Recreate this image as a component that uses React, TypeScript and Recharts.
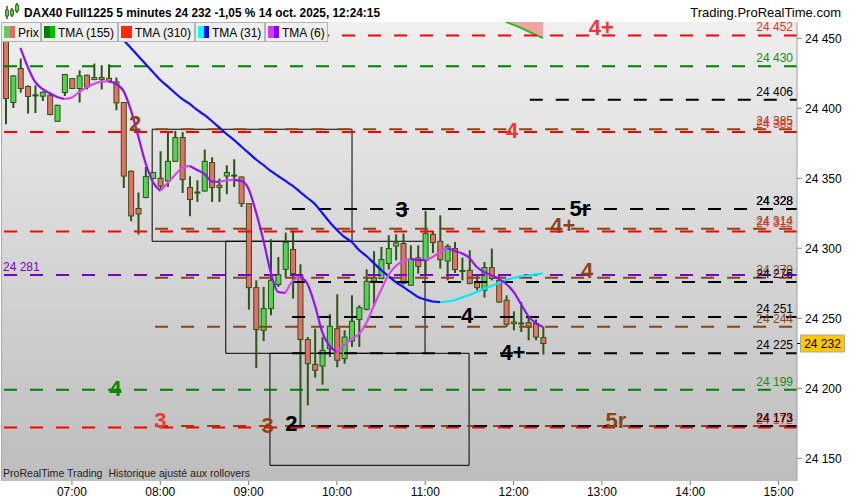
import React from 'react';
import { ComposedChart, Bar, Line, Area, XAxis, YAxis, ReferenceLine, ReferenceDot, ReferenceArea } from 'recharts';

// ---- 5-minute candles, slot 0 = 06:15 ----
const opens = [24448.6, 24404.1, 24428.4, 24415.5, 24408.8, 24408.6, 24409.3, 24390.7, 24411.2, 24421.2, 24414.1, 24423.6, 24420.5, 24421.9, 24421.4, 24418.8, 24404.1, 24355, 24328.4, 24336.2, 24349.8, 24350, 24348.1, 24362.1, 24379.1, 24343.4, 24339.5, 24340.9, 24361.2, 24345, 24351.6, 24351.6, 24350.9, 24331.9, 24271.9, 24241.4, 24256.9, 24274.1, 24285, 24299.1, 24280.2, 24234.8, 24217.1, 24215.9, 24228.4, 24242.6, 24221.2, 24233.8, 24249.1, 24256.4, 24276.6, 24278.4, 24289.1, 24301.6, 24303.4, 24273.6, 24293.1, 24291.4, 24310, 24305, 24290.9, 24299.8, 24283.8, 24284.3, 24275.9, 24270, 24286.2, 24277.1, 24262.9, 24247.4, 24245.9, 24246.9, 24246.2, 24236.2];
const highs = [24456, 24423.6, 24435.5, 24416.4, 24416.4, 24412.1, 24411.2, 24402.5, 24424.5, 24421.6, 24427.1, 24424, 24431.9, 24430.7, 24431.4, 24421.9, 24404.5, 24355.5, 24339.8, 24358.1, 24354.5, 24369.3, 24383.8, 24383.8, 24383, 24351.4, 24348.6, 24370.5, 24365, 24349.8, 24359.3, 24363.6, 24351.3, 24332.3, 24277.1, 24272.4, 24306.4, 24293.8, 24311.2, 24312.9, 24288.6, 24236.6, 24242.6, 24236.6, 24252.9, 24267.1, 24241.4, 24266.4, 24259.3, 24285, 24297.9, 24300.9, 24309.3, 24310, 24310.5, 24302.1, 24302.1, 24326.6, 24312.4, 24323.6, 24302.9, 24304.5, 24293.4, 24298.6, 24280.7, 24290.2, 24299.8, 24280.7, 24266.4, 24255, 24261.6, 24250.9, 24249.1, 24243.8];
const lows = [24388.6, 24400.2, 24411.2, 24396.2, 24396.6, 24405.2, 24395, 24390.3, 24408.8, 24413.8, 24404.1, 24413.4, 24420, 24413.4, 24418.6, 24398.6, 24343.1, 24319.3, 24309.8, 24335.8, 24349.4, 24341.4, 24343.8, 24361.7, 24339.5, 24322.9, 24333.1, 24340.5, 24333.1, 24333.1, 24338.6, 24343.8, 24329.5, 24256.2, 24214.5, 24233.8, 24252.1, 24272.4, 24279.1, 24264.1, 24173, 24187.9, 24207.6, 24202.6, 24222.4, 24215, 24217.6, 24229.5, 24229.5, 24255.7, 24258.6, 24278, 24284.8, 24291.4, 24274.1, 24273.2, 24281.9, 24280.7, 24296.6, 24285.5, 24277.1, 24282.4, 24277.1, 24274.4, 24270, 24264.8, 24277.1, 24261.2, 24243.8, 24241.4, 24240.2, 24234.3, 24234.3, 24224.1];
const closes = [24407, 24423.1, 24414.1, 24408.4, 24409.2, 24411.4, 24395.5, 24402.1, 24424.1, 24414.1, 24423.1, 24415.2, 24421.9, 24420.5, 24419.3, 24403.8, 24351.6, 24323.1, 24324.5, 24351.2, 24354.1, 24344.5, 24362.1, 24379.1, 24349.1, 24334.8, 24339.8, 24362.1, 24343.4, 24343.4, 24354.1, 24351.9, 24331.9, 24271.9, 24241.9, 24256.9, 24277.1, 24281.2, 24304.1, 24281.9, 24234.8, 24217.6, 24212.9, 24227.1, 24244.3, 24220, 24236.6, 24247.9, 24257.6, 24276.4, 24279.1, 24291.9, 24299.8, 24303.8, 24275, 24292.6, 24287.1, 24310.5, 24304.1, 24291.9, 24301.4, 24284.8, 24283.6, 24274.8, 24271.9, 24286.2, 24278.4, 24261.6, 24245.7, 24246.2, 24246.3, 24243.8, 24236.6, 24232];

// ---- moving averages ----
const tma6: (number | null)[] = [null, null, 24443.1, 24429.5, 24418.8, 24413.8, 24410.7, 24408.1, 24406.6, 24407.7, 24411.6, 24414.9, 24417.4, 24419, 24419.1, 24417.4, 24412.4, 24398.8, 24380.2, 24360.9, 24347.4, 24340.9, 24346.6, 24352.4, 24357.4, 24358.8, 24355.9, 24353.1, 24347.7, 24347.4, 24348.4, 24348.8, 24348.1, 24342.4, 24325.9, 24305.9, 24283.1, 24268.8, 24268.1, 24276.6, 24279.5, 24274.5, 24259.5, 24240.2, 24230.2, 24225.9, 24230.9, 24235.2, 24238.8, 24246.6, 24258.8, 24270.2, 24280.9, 24287.4, 24290.9, 24292.4, 24291.6, 24291.6, 24293.8, 24297.4, 24300, 24298.1, 24296.3, 24293.1, 24286.6, 24283.1, 24280.6, 24278.1, 24274.5, 24268.8, 24260.2, 24251.6, 24246.6, 24243.8];
const tma31: (number | null)[] = [null, null, null, null, null, null, null, null, null, null, null, null, null, null, 24460.2, 24454.5, 24448.8, 24443.1, 24437.4, 24431.6, 24425.9, 24420.2, 24415.6, 24410.9, 24406.6, 24403.1, 24398.8, 24395.2, 24390.9, 24386.3, 24381.6, 24377.4, 24372.7, 24368.1, 24363.4, 24359.5, 24355.2, 24351.6, 24348.1, 24344.5, 24340.2, 24335.9, 24331.6, 24325.2, 24318.8, 24313.1, 24308.1, 24304.5, 24298.8, 24294.5, 24289.5, 24284.5, 24280.2, 24275.9, 24272.4, 24268.8, 24265.2, 24263.4, 24262, 24261.6, 24262, 24263.1, 24264.9, 24266.6, 24268.8, 24270.9, 24273.1, 24275.2, 24277.4, 24278.8, 24279.9, 24280.7, 24281.4, 24282];
const tma155: (number | null)[] = [null, null, null, null, null, null, null, null, null, null, null, null, null, null, null, null, null, null, null, null, null, null, null, null, null, null, null, null, null, null, null, null, null, null, null, null, null, null, null, null, null, null, null, null, null, null, null, null, null, null, null, null, null, null, null, null, null, null, null, null, null, null, null, null, null, null, 24468, 24465.8, 24461.6, 24459.5, 24457.4, 24454.9, 24452.4, 24450.2];
const cyanFrom = 59;
const cloudTop = 24480;

// ---- axes ----
const hourTicks = [9, 21, 33, 45, 57, 69, 81, 93, 105];
const hourLabels = ['07:00', '08:00', '09:00', '10:00', '11:00', '12:00', '13:00', '14:00', '15:00'];
const yTicks = [24150, 24200, 24250, 24300, 24350, 24400, 24450];
const xDomain: [number, number] = [-0.5, 107.5];
const yDomain: [number, number] = [24133.8, 24461.6];
const lastPrice = 24232;

// ---- horizontal levels ----
const levelValues = [24452, 24430, 24406, 24385, 24383, 24328, 24328, 24314, 24312, 24281, 24279, 24276, 24251, 24244, 24225, 24199, 24173, 24172, 24173];
const levelKinds = ['red', 'green', 'black', 'brown', 'red', 'black', 'black', 'brown', 'red', 'purple', 'brown', 'black', 'black', 'brown', 'black', 'green', 'brown', 'red', 'black'];
const levelStarts = [-0.5, -0.5, 71.2, 20.3, -0.5, 38.9, 38.9, 20.3, -0.5, -0.5, 20.3, 38.9, 38.9, 20.3, 38.9, -0.5, 20.3, -0.5, 38.9];
const levelLabels = ['24 452', '24 430', '24 406', '24 385', '24 383', '24 328', '24 328', '24 314', '24 312', '', '24 279', '24 276', '24 251', '24 244', '24 225', '24 199', '24 173', '24 172', '24 173'];
const leftLabelValue = 24281;
const leftLabelText = '24 281';

// ---- zone boxes ----
const boxX1 = [19.9, 29.9, 35.9];
const boxX2 = [47.05, 56.97, 62.95];
const boxTop = [24385, 24305, 24225];
const boxBottom = [24305, 24225, 24145];

// ---- annotations ----
const annoTexts = ['4+', '2', '4', '3', '5r', '4+', '4', '4', '4+', '4', '3', '3', '2', '5r'];
const annoSlots = [80.9, 17.6, 68.8, 53.8, 78.0, 75.7, 79.0, 62.7, 68.9, 14.9, 21.0, 35.6, 38.8, 82.9];
const annoValues = [24458, 24389.5, 24384.5, 24328.1, 24328.8, 24316.6, 24284.5, 24252.4, 24225.9, 24200.2, 24177.4, 24173.8, 24175.2, 24177.4];
const annoKinds = ['red', 'brown', 'red', 'black', 'black', 'brown', 'brown', 'black', 'black', 'green', 'red', 'brown', 'black', 'brown'];

// ---- legend ----
const legendNames = ['Prix', 'TMA (155)', 'TMA (310)', 'TMA (31)', 'TMA (6)'];
const legendSwatches = [['#5ccf5c', '#e46b64'], ['#008000', '#00c000'], ['#ff2a00', '#ff2a00'], ['#00ffff', '#0010ff'], ['#d23cf0', '#8a00ff']];

const title = 'DAX40 Full1225 5 minutes 24 232 -1,05 % 14 oct. 2025, 12:24:15';
const siteName = 'Trading.ProRealTime.com';
const footNote = 'ProRealTime Trading\u00a0\u00a0Historique ajusté aux rollovers';

// ---- styles ----
const FONT = '"Liberation Sans", Arial, sans-serif';
const lineColor: Record<string, string> = { red: '#ff0000', green: '#008000', black: '#000000', brown: '#8b4513', purple: '#7a00c8' };
const labelColor: Record<string, string> = { red: '#ff2a2a', green: '#1a8a1a', black: '#000000', brown: '#8b4a18', purple: '#7a00c8' };
const annoColor: Record<string, string> = { red: '#ee3838', green: '#008a00', black: '#000000', brown: '#8b4513' };
const PURPLE = '#9312f5';
const MAGENTA = '#dc46ee';
const BLUE = '#1010ff';
const CYAN = '#00eaff';
const WICK = '#2d5416';
const UPFILL = '#52d452';
const DOWNFILL = '#e66e66';

const fmt = (v: number) => String(v).replace(/^(\d{2})(\d{3})$/, '$1 $2');

// build rows
type Run = { key: string; up: boolean };
const runs: Run[] = [];
const runVals: Record<string, (number | null)[]> = {};
{
  let cur: Run | null = null;
  for (let i = 0; i < tma6.length - 1; i++) {
    const a = tma6[i];
    const b = tma6[i + 1];
    if (a == null || b == null) { cur = null; continue; }
    const up = b > a;
    if (!cur || cur.up !== up) {
      cur = { key: 'm' + runs.length, up };
      runs.push(cur);
      runVals[cur.key] = new Array(tma6.length).fill(null);
    }
    runVals[cur.key][i] = a;
    runVals[cur.key][i + 1] = b;
  }
}

const rows = opens.map((o, i) => {
  const r: any = {
    i,
    o,
    h: highs[i],
    l: lows[i],
    c: closes[i],
    range: [lows[i], highs[i]],
    blue: i <= cyanFrom ? tma31[i] : null,
    cyan: i >= cyanFrom ? tma31[i] : null,
    g155: tma155[i],
    cloud: tma155[i] != null ? [tma155[i], cloudTop] : null,
  };
  runs.forEach((run) => { r[run.key] = runVals[run.key][i]; });
  return r;
});

const Candle = (props: any) => {
  const { x, y, width, height, payload } = props;
  if (!payload || height == null) return null;
  const { o, h, l, c } = payload;
  const k = height / (h - l);
  const cx = x + width / 2;
  const yO = y + (h - o) * k;
  const yC = y + (h - c) * k;
  const top = Math.min(yO, yC);
  const bh = Math.abs(yO - yC);
  const up = c >= o;
  return (
    <g>
      <line x1={cx} x2={cx} y1={y} y2={y + height} stroke={WICK} strokeWidth={2} />
      {bh < 1.5 ? (
        <line x1={cx - 3} x2={cx + 3} y1={top} y2={top} stroke={WICK} strokeWidth={2} />
      ) : (
        <rect x={cx - 2.5} y={top} width={5} height={bh} fill={up ? UPFILL : DOWNFILL} stroke={WICK} strokeWidth={1} />
      )}
    </g>
  );
};

const textShape = (txt: string, color: string, size: number, weight: string, anchor: string, dx: number, dy: number) =>
  (p: any) => (
    <text x={p.cx + dx} y={p.cy + dy} fill={color} fontSize={size} fontWeight={weight} fontFamily={FONT} textAnchor={anchor}>
      {txt}
    </text>
  );

const priceTag = (p: any) => (
  <g>
    <line x1={p.cx} x2={p.cx + 6} y1={p.cy} y2={p.cy} stroke="#000" strokeWidth={1} />
    <rect x={p.cx + 3.5} y={p.cy - 8.5} width={44} height={17} fill="#ffc800" stroke="#a8a8a8" strokeWidth={1} />
    <text x={p.cx + 25.5} y={p.cy + 4.5} fontSize={12} fontFamily={FONT} textAnchor="middle" fill="#000">{fmt(lastPrice)}</text>
  </g>
);

export default function App() {
  const TopDot: any = ReferenceDot;
  return (
    <div style={{ position: 'absolute', left: 0, top: 0, width: 850, height: 500, background: '#ffffff', overflow: 'hidden', fontFamily: FONT }}>
      {/* plot background */}
      <div style={{ position: 'absolute', left: 2, top: 22, width: 795, height: 459, background: 'linear-gradient(#efefef, #bdbdbd)' }} />
      <div style={{ position: 'absolute', left: 1, top: 22, width: 1, height: 459, background: '#a8a8a8' }} />
      <div style={{ position: 'absolute', left: 0, top: 0 }}>
        <ComposedChart width={850} height={500} data={rows} margin={{ top: 22, right: 0, bottom: 0, left: 2 }}>
          <XAxis
            type="number"
            dataKey="i"
            domain={xDomain}
            allowDataOverflow
            ticks={hourTicks}
            interval={0}
            tickFormatter={(v: number) => hourLabels[hourTicks.indexOf(v)] || ''}
            axisLine={false}
            tickLine={{ stroke: '#777' }}
            tickSize={4}
            tickMargin={2}
            height={19}
            tick={{ fontSize: 12, fill: '#000', fontFamily: FONT }}
          />
          <YAxis
            orientation="right"
            type="number"
            domain={yDomain}
            allowDataOverflow
            ticks={yTicks}
            interval={0}
            width={53}
            tickFormatter={fmt}
            tickSize={5}
            tickMargin={3}
            axisLine={{ stroke: '#a0a0a0' }}
            tickLine={{ stroke: '#888' }}
            tick={{ fontSize: 12, fill: '#000', fontFamily: FONT }}
          />
          {boxX1.map((x1, k) => (
            <ReferenceArea key={'box' + k} x1={x1} x2={boxX2[k]} y1={boxBottom[k]} y2={boxTop[k]} fill="none" fillOpacity={0} stroke="#000" strokeWidth={1} ifOverflow="visible" />
          ))}
          <Area dataKey="cloud" stroke="none" fill="#f4a3a3" fillOpacity={1} isAnimationActive={false} />
          <Line dataKey="g155" stroke="#22bb22" strokeWidth={2} dot={false} isAnimationActive={false} />
          {levelValues.map((v, k) =>
            levelStarts[k] <= -0.5 ? (
              <ReferenceLine key={'lv' + k} y={v} stroke={lineColor[levelKinds[k]]} strokeWidth={2} strokeDasharray="13 13" />
            ) : (
              <ReferenceLine key={'lv' + k} segment={[{ x: levelStarts[k], y: v }, { x: 107.5, y: v }]} stroke={lineColor[levelKinds[k]]} strokeWidth={2} strokeDasharray="13 13" />
            )
          )}
          <Bar dataKey="range" barSize={6} shape={Candle} isAnimationActive={false} />
          <Line dataKey="blue" type="monotone" stroke={BLUE} strokeWidth={2.2} dot={false} isAnimationActive={false} />
          <Line dataKey="cyan" type="monotone" stroke={CYAN} strokeWidth={2.2} dot={false} isAnimationActive={false} />
          {runs.map((run) => (
            <Line key={run.key} dataKey={run.key} type="monotone" stroke={run.up ? MAGENTA : PURPLE} strokeWidth={2.2} dot={false} isAnimationActive={false} />
          ))}
          {levelValues.map((v, k) =>
            levelLabels[k] ? (
              <TopDot key={'ll' + k} zIndex={1200} x={107.5} y={v} r={0} shape={textShape(levelLabels[k], labelColor[levelKinds[k]], 12, 'normal', 'end', -4, -4)} />
            ) : null
          )}
          <TopDot zIndex={1200} x={-0.5} y={leftLabelValue} r={0} shape={textShape(leftLabelText, labelColor.purple, 12, 'normal', 'start', 1, -4)} />
          {annoTexts.map((t, k) => (
            <TopDot key={'an' + k} zIndex={1200} x={annoSlots[k]} y={annoValues[k]} r={0} shape={textShape(t, annoColor[annoKinds[k]], 22, 'bold', 'middle', 0, 8)} />
          ))}
          <TopDot zIndex={1200} x={107.5} y={lastPrice} r={0} shape={priceTag} />
        </ComposedChart>
      </div>
      {/* header and legend */}
      <svg width={850} height={500} style={{ position: 'absolute', left: 0, top: 0, pointerEvents: 'none' }}>
        <g>
          <line x1={7} x2={7} y1={6} y2={19} stroke={WICK} strokeWidth={1.5} />
          <rect x={5.5} y={10} width={3} height={6} fill={UPFILL} stroke={WICK} strokeWidth={0.8} />
          <line x1={12} x2={12} y1={8} y2={17} stroke={WICK} strokeWidth={1.5} />
          <rect x={10.5} y={10} width={3} height={5} fill={UPFILL} stroke={WICK} strokeWidth={0.8} />
          <line x1={17} x2={17} y1={3} y2={13} stroke={WICK} strokeWidth={1.5} />
          <rect x={15.5} y={5} width={3} height={6} fill={UPFILL} stroke={WICK} strokeWidth={0.8} />
        </g>
        <text x={24} y={17} fontSize={13} fontWeight="bold" fontFamily={FONT} fill="#000" textLength={356} lengthAdjust="spacingAndGlyphs">{title}</text>
        <text x={841} y={17} fontSize={13} fontFamily={FONT} fill="#000" textAnchor="end">{siteName}</text>
        {(() => {
          const widths = [39, 76, 76, 69, 62];
          let x = 1;
          return legendNames.map((n, k) => {
            const x0 = x;
            x += widths[k] + 1;
            return (
              <g key={'lg' + k}>
                <rect x={x0 + 0.5} y={22.5} width={widths[k]} height={19} fill="#efefef" stroke="#b4b4b4" strokeWidth={1} />
                <rect x={x0 + 3} y={26} width={6} height={12} fill={legendSwatches[k][0]} />
                <rect x={x0 + 9} y={26} width={5} height={12} fill={legendSwatches[k][1]} />
                <text x={x0 + 17} y={36.5} fontSize={12} fontFamily={FONT} fill="#000">{n}</text>
              </g>
            );
          });
        })()}
        <text x={3} y={477} fontSize={11} fontFamily={FONT} fill="#1e1e1e" textLength={247} lengthAdjust="spacingAndGlyphs">{footNote}</text>
      </svg>
    </div>
  );
}
